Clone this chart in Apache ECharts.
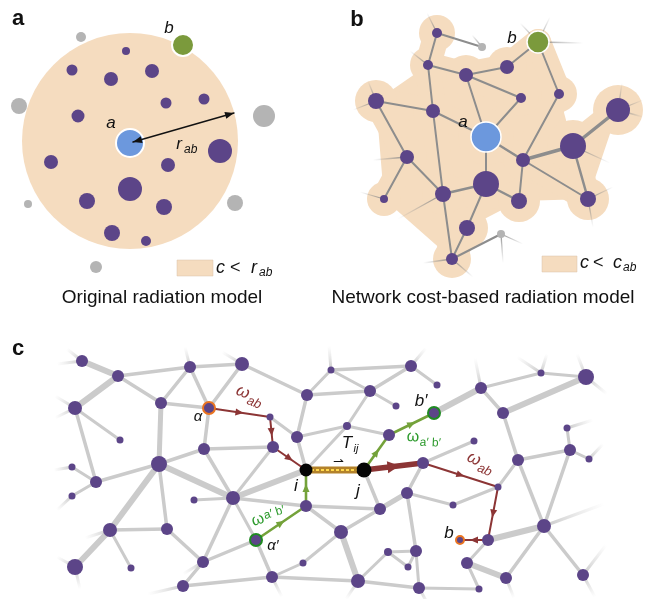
<!DOCTYPE html>
<html><head><meta charset="utf-8">
<script src="https://cdn.jsdelivr.net/npm/echarts@6/dist/echarts.min.js"></script>
<style>html,body{margin:0;padding:0;background:#fff}#c{width:647px;height:599px}</style>
</head><body><div id="c"></div>
<script>
// ================= DATA =================
// ---- Panel a (x, y, radius) ----
const aDisk = [130, 141, 108];
const aSourceNode = [130, 143, 14];
const aTargetNode = [183, 45, 11];
const aInsideNodes = [[126,51,4],[72,70,5.5],[111,79,7],[152,71,7],[166,103,5.5],[204,99,5.5],[78,116,6.5],[220,151,12],[51,162,7],[168,165,7],[130,189,12],[87,201,8],[164,207,8],[112,233,8],[146,241,5]];
const aOutsideNodes = [[81,37,5],[19,106,8],[264,116,11],[28,204,4],[235,203,8],[96,267,6]];
const aRadiusArrow = [133,142,234,113];

// ---- Panel b ----
const bNodes = [
  [437,33,5],[428,65,5],[466,75,7],[507,67,7],[521,98,5],[559,94,5],[376,101,8],[433,111,7],
  [618,110,12],[573,146,13],[407,157,7],[523,160,7],[486,184,13],[443,194,8],[519,201,8],
  [588,199,8],[384,199,4],[467,228,8],[452,259,6],
  [486,137,15],   // 19: source a
  [538,42,11],    // 20: target b
  [482,47,4],     // 21: gray
  [501,234,4]     // 22: gray
];
const bSourceIdx = 19, bTargetIdx = 20, bGrayIdx = [21,22];
const bEdges = [[0,1,2],[0,21,2],[1,2,2],[1,7,2],[2,3,2],[3,20,2],[2,19,2],[2,4,2],[4,19,2],[5,20,2],[5,11,2],
  [6,7,2],[6,10,2],[7,19,2],[7,13,2],[10,16,2],[10,13,2],[19,11,2.5],[19,12,2],[11,9,3.5],[9,8,3.5],
  [11,14,2],[11,15,2],[9,15,2.5],[12,13,2.5],[12,14,2.5],[12,17,2],[13,18,2],[17,18,2],[18,22,2]];
const bStubs = [[0,-10,-20],[1,-18,-14],[20,-18,-19],[20,12,-25],[20,45,1],[6,-23,9],[6,-8,-20],
  [16,-24,-7],[10,-34,3],[13,-45,25],[18,-29,4],[18,21,18],[22,2,29],[22,22,10],[8,4,-27],[8,25,-10],
  [8,25,7],[9,37,17],[15,5,28],[15,25,-12],[21,-10,-12]];
const bRegionOutline = [1,2,3,20,5,9,8,15,14,17,18,16,6];

// ---- Panel c (1-based node ids) ----
const cNodes = [null,
  [82,361,6],[118,376,6],[190,367,6],[242,364,7],[75,408,7],[161,403,6],[209,408,6],[270,417,3.5],
  [307,395,6],[297,437,6],[120,440,3.5],[204,449,6],[273,447,6],[306,470,6.5],[159,464,8],[72,467,3.5],
  [96,482,6],[72,496,3.5],[233,498,7],[194,500,3.5],[306,506,6],[110,530,7],[167,529,6],[256,540,6],
  [75,567,8],[131,568,3.5],[203,562,6],[303,563,3.5],[272,577,6],[183,586,6],[331,370,3.5],[411,366,6],
  [370,391,6],[437,385,3.5],[396,406,3.5],[347,426,4],[434,413,6],[389,435,6],[364,470,7.5],[423,463,6],
  [474,441,3.5],[481,388,6],[503,413,6],[541,373,3.5],[586,377,8],[567,428,3.5],[570,450,6],[589,459,3.5],
  [518,460,6],[498,487,3.5],[453,505,3.5],[407,493,6],[380,509,6],[341,532,7],[544,526,7],[488,540,6],
  [460,540,4],[388,552,4],[416,551,6],[408,567,3.5],[467,563,6],[506,578,6],[583,575,6],[358,581,7],
  [419,588,6],[479,589,3.5]];
const cBlack = [14,39], cOrangeRing = [7,57], cGreenRing = [24,37];
const cEdges = [[1,2,6],[2,5,6],[2,6,3.5],[2,3,3.5],[3,6,3.5],[3,7,3.5],[3,4,3.5],[6,7,3.5],[5,11,3],[5,17,3.5],
  [6,15,5],[7,12,3.5],[4,7,3.5],[8,10,3],[4,9,3.5],[9,31,3],[9,10,3.5],[9,33,3.5],[31,32,3.5],[31,33,3],
  [33,32,3.5],[33,35,3],[33,36,3],[36,14,3],[36,38,3],[10,14,3.5],[10,36,3],[12,13,3.5],[12,15,3.5],
  [12,19,3.5],[13,19,3],[19,14,6],[15,19,6],[15,17,3.5],[15,22,6],[15,23,3.5],[16,17,3],[17,18,3],[20,19,3],
  [19,21,3.5],[19,24,3],[19,27,3.5],[21,53,3.5],[21,54,3.5],[22,23,3.5],[22,25,6],[22,26,3],[23,27,3.5],
  [24,27,3.5],[24,29,3.5],[27,30,3.5],[28,54,3],[29,28,3],[29,64,3.5],[30,29,3.5],[54,64,6],[54,53,3.5],
  [53,52,5],[53,39,3.5],[40,52,3.5],[40,41,3],[52,51,3],[51,50,3],[52,59,3.5],[58,59,3],[58,60,3],[60,59,3],
  [58,64,3],[59,65,3],[64,65,3.5],[65,66,3],[66,61,3],[61,56,3],[61,62,6],[62,55,3.5],[56,55,6],[55,49,3.5],
  [55,63,3.5],[49,43,3.5],[49,47,3.5],[47,46,3],[47,48,3],[47,55,3.5],[43,42,3.5],[43,45,6],[42,37,6],
  [42,44,3],[44,45,3],[32,34,3],[49,50,3]];
const cStubs = [[1,-25,3],[5,-20,-12],[5,-20,10],[16,-18,3],[18,-15,14],[22,-25,8],[25,-18,-10],[25,5,22],
  [30,-35,8],[29,10,20],[27,-20,12],[4,-20,-12],[31,-2,-24],[32,15,-18],[42,-6,-30],[44,-24,-16],[44,6,-19],
  [45,-9,-23],[45,21,17],[46,26,-8],[48,14,-15],[55,60,-22],[63,23,-30],[63,12,22],[62,8,20],[65,10,18],
  [64,-12,18],[3,-5,-20],[1,-15,-12]];
const cRedPath = [[7,8],[8,13],[13,14],[40,50],[50,56],[56,57]];
const cRedThick = [[39,40]];
const cGreenPath = [[24,21],[21,14],[39,38],[38,37]];
const cFlowBar = [14,39];

// ================= COLOURS =================
const PEACH = '#f5dcbf', PURPLE = '#5c4588', BLUE = '#6c98dd', GREEN = '#7b9a3c', GRAY = '#b4b4b4';
const RED = '#8c3535', GPATH = '#74a23a', FONT = '"Liberation Sans", Arial, sans-serif';

// ================= HELPERS =================
function seg(p, q, w) { return [p[0], p[1], q[0], q[1], w]; }
function lineSeries(data, strokeFn, z, cap) {
  return {
    type: 'custom', coordinateSystem: 'cartesian2d', z: z, silent: true, animation: false,
    dimensions: ['x1','y1','x2','y2','w'], encode: {x: [0,2], y: [1,3]},
    data: data,
    renderItem: function (params, api) {
      const a = api.coord([api.value(0), api.value(1)]);
      const b = api.coord([api.value(2), api.value(3)]);
      return {type: 'line', shape: {x1: a[0], y1: a[1], x2: b[0], y2: b[1]},
        style: {stroke: strokeFn(a, b), lineWidth: api.value(4), lineCap: cap || 'round'}};
    }
  };
}
function arrowSeries(data, color, headL, headW, z, pos, both) {
  return {
    type: 'custom', coordinateSystem: 'cartesian2d', z: z, silent: true, animation: false,
    dimensions: ['x1','y1','x2','y2','w'], encode: {x: [0,2], y: [1,3]},
    data: data,
    renderItem: function (params, api) {
      const a = api.coord([api.value(0), api.value(1)]);
      const b = api.coord([api.value(2), api.value(3)]);
      const dx = b[0]-a[0], dy = b[1]-a[1], L = Math.hypot(dx, dy);
      const ux = dx/L, uy = dy/L, nx = -uy, ny = ux;
      const head = function (tx, ty, sx, sy) {
        return {type: 'polygon', shape: {points: [[tx, ty],
          [tx - sx*headL + nx*headW/2, ty - sy*headL + ny*headW/2],
          [tx - sx*headL - nx*headW/2, ty - sy*headL - ny*headW/2]]}, style: {fill: color}};
      };
      const ch = [{type: 'line', shape: {x1: a[0], y1: a[1], x2: b[0], y2: b[1]},
        style: {stroke: color, lineWidth: api.value(4), lineCap: 'round'}}];
      if (both) {
        ch.push(head(b[0], b[1], ux, uy));
        ch.push(head(a[0], a[1], -ux, -uy));
      } else {
        const mx = a[0] + dx*pos + ux*headL/2, my = a[1] + dy*pos + uy*headL/2;
        ch.push(head(mx, my, ux, uy));
      }
      return {type: 'group', children: ch};
    }
  };
}
function nodeSeries(list, fill, border, bw, z) {
  return {
    type: 'scatter', z: z, silent: true, animation: false, symbol: 'circle',
    data: list.map(function (n) { return {value: [n[0], n[1]], symbolSize: 2*n[2]}; }),
    itemStyle: {color: fill, borderColor: border || 'transparent', borderWidth: bw || 0, opacity: 1}
  };
}
function regionSeries(points, fill, z) {
  return {
    type: 'custom', coordinateSystem: 'cartesian2d', z: z, silent: true, animation: false,
    dimensions: ['x','y'], encode: {x: 0, y: 1},
    data: [points[0]],
    renderItem: function (params, api) {
      return {type: 'polygon', shape: {points: points.map(function (p) { return api.coord(p); })},
        style: {fill: fill}};
    }
  };
}
function fadeGrad(col0, col1) {
  return function (a, b) {
    return new echarts.graphic.LinearGradient(a[0], a[1], b[0], b[1],
      [{offset: 0, color: col0}, {offset: 1, color: col1}], true);
  };
}
function solid(c) { return function () { return c; }; }
function txt(x, y, text, size, opts) {
  opts = opts || {};
  return {type: 'text', x: x, y: y, z: 100, silent: true,
    style: {text: text, fontSize: size, fontFamily: FONT, fontStyle: opts.italic ? 'italic' : 'normal',
      fontWeight: opts.bold ? 'bold' : 'normal', fill: opts.color || '#111',
      align: opts.align || 'center', verticalAlign: 'middle'}};
}
function grp(x, y, rot, children) {
  return {type: 'group', x: x, y: y, rotation: rot, z: 100, children: children};
}

// ================= BUILD =================
const series = [];
// ---- Panel a ----
series.push(nodeSeries([aDisk], PEACH, null, 0, 1));
series.push(nodeSeries(aInsideNodes, PURPLE, null, 0, 3));
series.push(nodeSeries(aOutsideNodes, GRAY, null, 0, 3));
series.push(nodeSeries([aSourceNode], BLUE, '#fff', 2, 4));
series.push(nodeSeries([aTargetNode], GREEN, '#fff', 2, 4));
series.push(arrowSeries([aRadiusArrow.concat([1.4])], '#111', 9, 7, 5, 0, true));

// ---- Panel b ----
const bPurple = bNodes.filter(function (n, i) { return i < 19; });
series.push(regionSeries(bRegionOutline.map(function (i) { return [bNodes[i][0], bNodes[i][1]]; }), PEACH, 1));
const bBlobEdges = bEdges.filter(function (e) { return bGrayIdx.indexOf(e[0]) < 0 && bGrayIdx.indexOf(e[1]) < 0; })
  .map(function (e) { return seg(bNodes[e[0]], bNodes[e[1]], 26); });
series.push(lineSeries(bBlobEdges, solid(PEACH), 1));
series.push(nodeSeries(bNodes.filter(function (n, i) { return bGrayIdx.indexOf(i) < 0 && i !== bTargetIdx; })
  .map(function (n) { return [n[0], n[1], n[2] + 13]; }), PEACH, null, 0, 1));
series.push(lineSeries(bStubs.map(function (s) { const n = bNodes[s[0]];
  return [n[0], n[1], n[0]+s[1], n[1]+s[2], 1.3]; }), fadeGrad('rgba(130,130,130,0.9)', 'rgba(150,150,150,0)'), 2, 'butt'));
series.push(lineSeries(bEdges.map(function (e) { return seg(bNodes[e[0]], bNodes[e[1]], e[2]); }), solid('#8d8d8d'), 2));
series.push(nodeSeries(bPurple, PURPLE, null, 0, 4));
series.push(nodeSeries(bGrayIdx.map(function (i) { return bNodes[i]; }), GRAY, null, 0, 4));
series.push(nodeSeries([bNodes[bSourceIdx]], BLUE, '#fff', 1.5, 4));
series.push(nodeSeries([bNodes[bTargetIdx]], GREEN, '#fff', 1.5, 4));

// ---- Panel c ----
series.push(lineSeries(cStubs.map(function (s) { const n = cNodes[s[0]];
  return [n[0], n[1], n[0]+s[1], n[1]+s[2], 3]; }), fadeGrad('rgba(200,200,200,1)', 'rgba(215,215,215,0)'), 2, 'butt'));
series.push(lineSeries(cEdges.map(function (e) { return seg(cNodes[e[0]], cNodes[e[1]], e[2]); }), solid('#cbcbcb'), 2));
series.push(lineSeries([seg(cNodes[cFlowBar[0]], cNodes[cFlowBar[1]], 7)], solid('#b3822a'), 3, 'butt'));
series.push({
  type: 'custom', coordinateSystem: 'cartesian2d', z: 3, silent: true, animation: false,
  dimensions: ['x1','y1','x2','y2','w'], encode: {x: [0,2], y: [1,3]},
  data: [seg(cNodes[cFlowBar[0]], cNodes[cFlowBar[1]], 2.2)],
  renderItem: function (p, api) {
    const a = api.coord([api.value(0), api.value(1)]), b = api.coord([api.value(2), api.value(3)]);
    return {type: 'line', shape: {x1: a[0], y1: a[1], x2: b[0], y2: b[1]},
      style: {stroke: '#ffd94d', lineWidth: api.value(4), lineDash: [3, 2]}};
  }
});
series.push(arrowSeries(cRedPath.map(function (e) { return seg(cNodes[e[0]], cNodes[e[1]], 2); }), RED, 8, 7, 3, 0.5));
series.push(arrowSeries(cRedThick.map(function (e) { return seg(cNodes[e[0]], cNodes[e[1]], 5.5); }), RED, 12, 12, 3, 0.5));
series.push(arrowSeries(cGreenPath.map(function (e) { return seg(cNodes[e[0]], cNodes[e[1]], 2.6); }), GPATH, 8, 7, 3, 0.5));
const cSpecial = cBlack.concat(cOrangeRing, cGreenRing);
series.push(nodeSeries(cNodes.filter(function (n, i) { return n && cSpecial.indexOf(i) < 0; }), PURPLE, null, 0, 4));
series.push(nodeSeries(cBlack.map(function (i) { return cNodes[i]; }), '#050505', null, 0, 4));
series.push(nodeSeries(cOrangeRing.map(function (i) { return cNodes[i]; }), PURPLE, '#ea7420', 2, 4));
series.push(nodeSeries(cGreenRing.map(function (i) { return cNodes[i]; }), PURPLE, '#1f8a22', 2, 4));

// ================= TEXT =================
const graphics = [
  // panel letters
  txt(18, 19, 'a', 22, {bold: true}),
  txt(357, 20, 'b', 22, {bold: true}),
  txt(18, 349, 'c', 22, {bold: true}),
  // panel a
  txt(111, 123, 'a', 17, {italic: true}),
  txt(169, 28, 'b', 17, {italic: true}),
  txt(179, 144, 'r', 17, {italic: true}),
  txt(184, 150, 'ab', 12, {italic: true, align: 'left'}),
  {type: 'rect', z: 50, shape: {x: 177, y: 260, width: 36, height: 16}, style: {fill: PEACH, stroke: '#d8c3ab', lineWidth: 0.5}},
  txt(216, 268, 'c', 18, {italic: true, align: 'left'}),
  txt(230, 268, '<', 18, {align: 'left'}),
  txt(251, 268, 'r', 18, {italic: true, align: 'left'}),
  txt(259, 273, 'ab', 12, {italic: true, align: 'left'}),
  txt(162, 298, 'Original radiation model', 19),
  // panel b
  txt(512, 38, 'b', 17, {italic: true}),
  txt(463, 122, 'a', 17, {italic: true}),
  {type: 'rect', z: 50, shape: {x: 542, y: 256, width: 35, height: 16}, style: {fill: PEACH, stroke: '#d8c3ab', lineWidth: 0.5}},
  txt(580, 263, 'c', 18, {italic: true, align: 'left'}),
  txt(593, 263, '<', 18, {align: 'left'}),
  txt(613, 263, 'c', 18, {italic: true, align: 'left'}),
  txt(623, 268, 'ab', 12, {italic: true, align: 'left'}),
  txt(483, 298, 'Network cost-based radiation model', 19),
  // panel c
  txt(198, 417, 'α', 15, {italic: true}),
  txt(273, 546, 'α′', 15, {italic: true}),
  txt(296, 486, 'i', 17, {italic: true}),
  txt(358, 491, 'j', 17, {italic: true}),
  txt(421, 401, 'b′', 17, {italic: true}),
  txt(449, 533, 'b', 17, {italic: true}),
  txt(347, 443, 'T', 17, {italic: true}),
  txt(356, 449, 'ij', 11, {italic: true}),
  txt(338, 462, '⇀', 13),
  grp(243, 392, -0.38, [txt(0, 0, 'ω', 17, {color: RED, italic: true}), txt(7, 6, 'ab', 13, {color: RED, italic: true, align: 'left'})]),
  grp(474, 459, -0.42, [txt(0, 0, 'ω', 17, {color: RED, italic: true}), txt(7, 6, 'ab', 13, {color: RED, italic: true, align: 'left'})]),
  grp(413, 437, -0.05, [txt(0, 0, 'ω', 16, {color: '#2c9a2c'}), txt(7, 5, 'a′ b′', 12, {color: '#2c9a2c', align: 'left'})]),
  grp(258, 520, 0.3, [txt(0, 0, 'ω', 16, {color: '#2c9a2c'}), txt(7, -2, 'a′ b′', 12, {color: '#2c9a2c', align: 'left'})])
];

const chart = echarts.init(document.getElementById('c'), null, {renderer: 'canvas'});
chart.setOption({
  backgroundColor: '#fff',
  animation: false,
  grid: {left: 0, right: 0, top: 0, bottom: 0},
  xAxis: {type: 'value', min: 0, max: 647, show: false},
  yAxis: {type: 'value', min: 0, max: 599, inverse: true, show: false},
  series: series,
  graphic: graphics
});
</script>
</body></html>
